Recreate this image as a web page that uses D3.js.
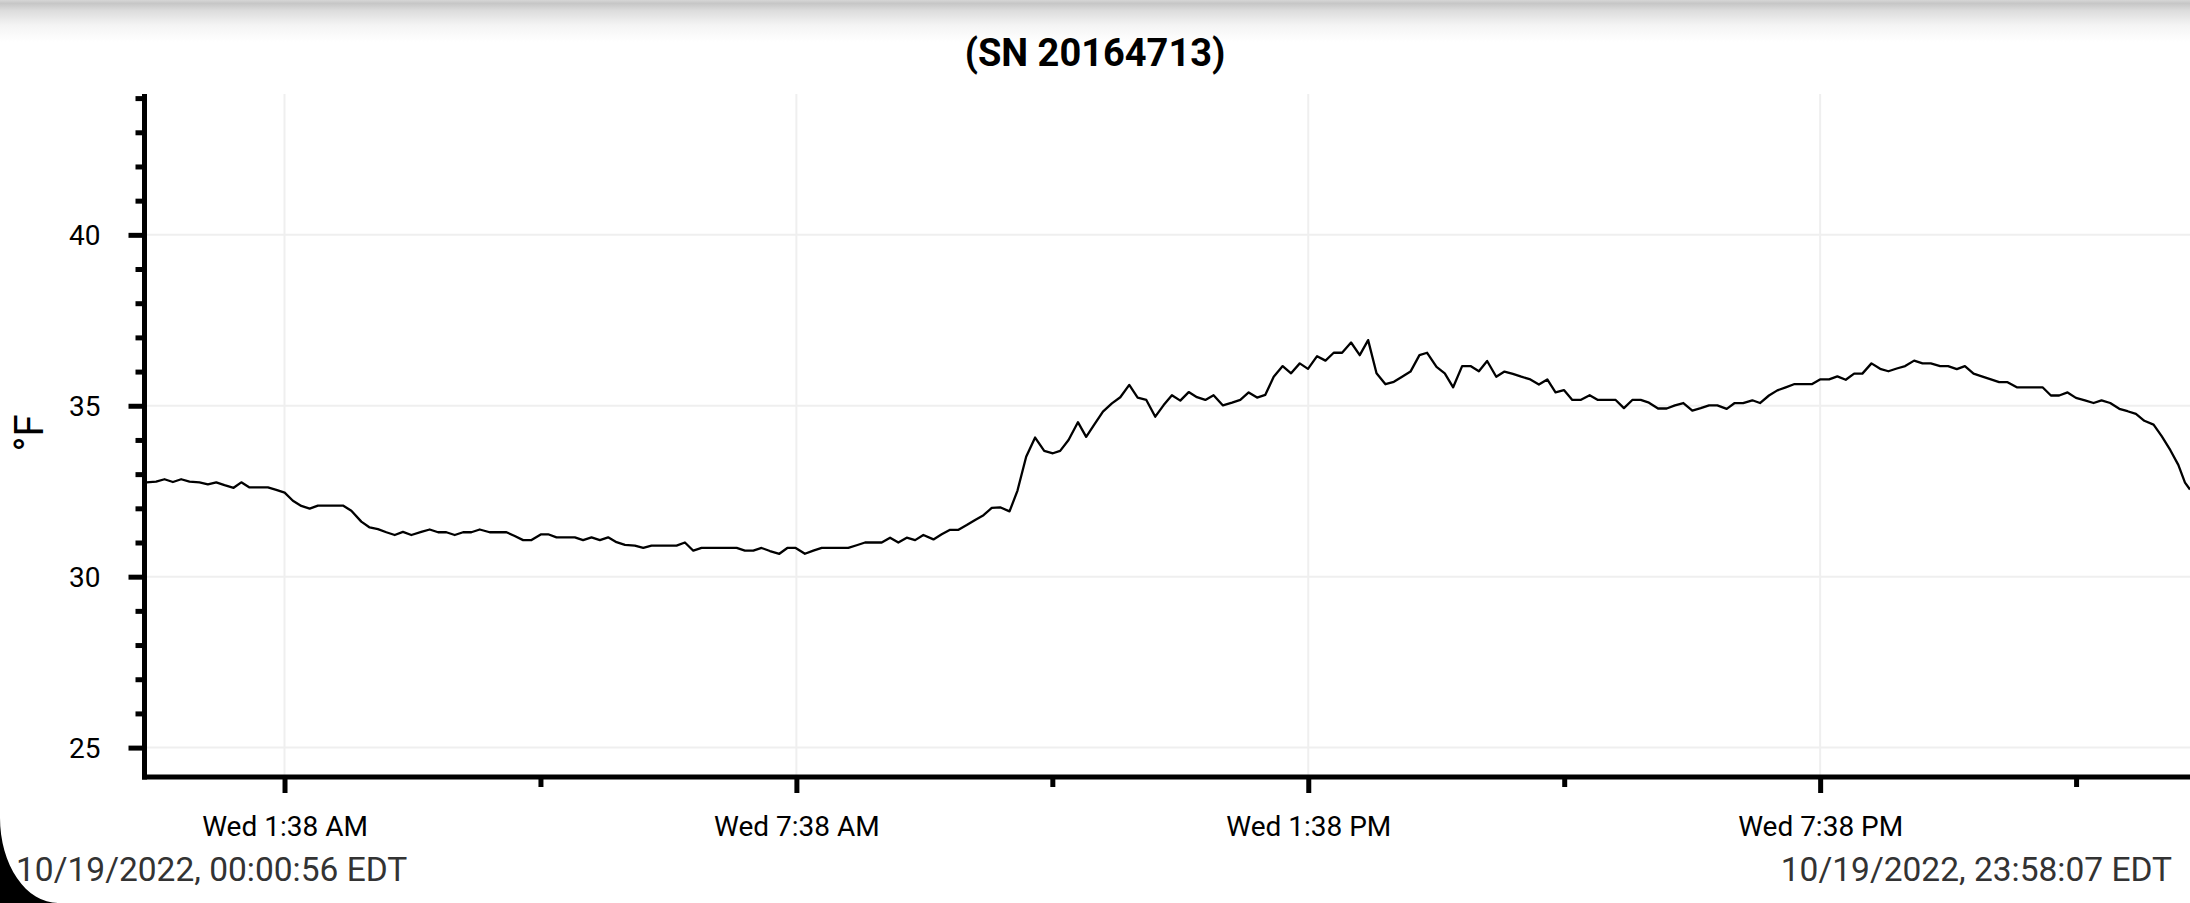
<!DOCTYPE html>
<html><head><meta charset="utf-8">
<script src="https://cdn.jsdelivr.net/npm/d3@7"></script>
<style>html,body{margin:0;padding:0;background:#fff;overflow:hidden}</style>
</head><body>
<svg id="chart" width="2190" height="903"></svg>
<script>
// ---------- data ----------
const title = "(SN 20164713)";
const yLabel = "°F";
const startLabel = "10/19/2022, 00:00:56 EDT";
const endLabel = "10/19/2022, 23:58:07 EDT";

// minutes after midnight, 10/19/2022
const minutes = [
  0.93, 7.7, 13.6, 19.5, 25.3, 31.2, 38.2, 44.1, 50.0, 55.8, 62.2, 67.6, 73.4, 86.3, 92.2, 98.1, 103.9, 109.8, 115.7, 121.5,
  139.1, 145.0, 152.0, 157.9, 163.7, 169.6, 175.5, 181.3, 187.2, 194.2, 200.1, 206.0, 211.8, 217.7, 223.6, 229.4, 235.3, 242.3,
  254.1, 259.9, 265.8, 271.7, 278.5, 283.4, 289.3, 302.2, 308.0, 313.9, 319.8, 325.6, 331.5, 337.4, 344.4, 350.3, 356.1, 373.7,
  379.6, 385.5, 391.3, 416.0, 421.8, 427.7, 433.5, 439.4, 446.0, 451.6, 457.5, 464.0, 469.9, 475.8, 494.5, 500.4, 506.3, 518.0,
  523.9, 529.7, 535.6, 541.5, 547.3, 554.4, 560.2, 566.1, 572.0, 577.8, 583.7, 589.6, 595.4, 601.3, 607.9, 613.5, 619.6, 625.9,
  632.3, 638.4, 643.5, 649.4, 656.0, 661.8, 667.7, 673.6, 679.9, 685.8, 692.1, 698.0, 704.1, 710.4, 716.3, 722.1, 728.0, 733.9,
  739.7, 745.6, 751.4, 758.0, 764.4, 770.2, 776.1, 782.0, 787.8, 793.7, 800.0, 805.9, 812.0, 817.8, 824.2, 830.1, 835.9, 841.8,
  848.1, 854.2, 860.1, 866.0, 872.3, 878.2, 884.0, 889.9, 896.2, 901.6, 908.2, 914.0, 919.9, 926.2, 932.1, 938.0, 943.8, 950.2,
  956.0, 961.9, 967.8, 973.6, 980.2, 986.1, 991.9, 997.8, 1003.7, 1009.5, 1015.9, 1021.7, 1034.2, 1040.0, 1045.9, 1051.8, 1057.6,
  1064.0, 1070.1, 1075.9, 1081.8, 1088.1, 1094.0, 1099.9, 1105.7, 1112.3, 1117.9, 1123.8, 1130.3, 1135.7, 1142.0, 1147.9, 1153.8,
  1159.6, 1172.1, 1177.9, 1184.3, 1190.1, 1196.0, 1201.9, 1207.7, 1214.1, 1220.2, 1226.0, 1231.9, 1237.8, 1244.1, 1250.0, 1255.8,
  1262.4, 1268.0, 1274.1, 1279.8, 1285.9, 1292.2, 1298.1, 1303.9, 1309.8, 1316.3, 1334.4, 1340.3, 1346.1, 1352.0, 1357.9, 1364.2,
  1370.3, 1375.9, 1382.0, 1388.4, 1394.2, 1400.1, 1406.0, 1412.5, 1418.2, 1424.3, 1429.9, 1434.6, 1438.1
];
// °F
const values = [
  32.76, 32.78, 32.85, 32.77, 32.85, 32.78, 32.76, 32.70, 32.76, 32.68, 32.60, 32.76, 32.61, 32.61, 32.54, 32.46, 32.22, 32.07, 31.99, 32.08,
  32.08, 31.93, 31.61, 31.44, 31.39, 31.30, 31.22, 31.31, 31.22, 31.31, 31.38, 31.30, 31.30, 31.22, 31.30, 31.30, 31.38, 31.30,
  31.30, 31.19, 31.07, 31.07, 31.24, 31.24, 31.15, 31.15, 31.07, 31.15, 31.07, 31.15, 31.01, 30.93, 30.91, 30.84, 30.91, 30.91,
  31.00, 30.76, 30.84, 30.84, 30.76, 30.76, 30.84, 30.75, 30.67, 30.84, 30.84, 30.67, 30.76, 30.84, 30.84, 30.92, 31.00, 31.00,
  31.14, 31.00, 31.14, 31.07, 31.22, 31.09, 31.24, 31.37, 31.37, 31.51, 31.66, 31.80, 32.01, 32.03, 31.91, 32.52, 33.51, 34.07,
  33.68, 33.61, 33.68, 34.00, 34.52, 34.09, 34.46, 34.83, 35.07, 35.25, 35.61, 35.24, 35.17, 34.68, 35.02, 35.31, 35.15, 35.40,
  35.25, 35.17, 35.31, 35.01, 35.09, 35.17, 35.39, 35.24, 35.32, 35.85, 36.16, 35.95, 36.24, 36.08, 36.45, 36.32, 36.55, 36.55,
  36.85, 36.48, 36.92, 35.95, 35.63, 35.70, 35.85, 36.00, 36.48, 36.55, 36.14, 35.95, 35.54, 36.16, 36.16, 36.01, 36.31, 35.85,
  36.00, 35.93, 35.85, 35.78, 35.62, 35.77, 35.39, 35.46, 35.17, 35.17, 35.31, 35.17, 35.17, 34.93, 35.17, 35.17, 35.09,
  34.92, 34.92, 35.01, 35.08, 34.86, 34.93, 35.01, 35.01, 34.91, 35.08, 35.08, 35.16, 35.08, 35.30, 35.45, 35.54,
  35.63, 35.63, 35.77, 35.77, 35.86, 35.76, 35.94, 35.94, 36.24, 36.08, 36.01, 36.09, 36.16, 36.32, 36.24, 36.24,
  36.16, 36.16, 36.07, 36.16, 35.94, 35.85, 35.77, 35.69, 35.69, 35.54, 35.54, 35.30, 35.30, 35.39, 35.23, 35.16,
  35.08, 35.16, 35.08, 34.91, 34.84, 34.76, 34.56, 34.45, 34.11, 33.70, 33.27, 32.75, 32.55
];

const yMajorTicks = [25, 30, 35, 40];
const yMinorTicks = [26, 27, 28, 29, 31, 32, 33, 34, 36, 37, 38, 39, 41, 42, 43, 44];
const xMajorTicks = ["01:38:00", "07:38:00", "13:38:00", "19:38:00"];
const xMajorLabels = ["Wed 1:38 AM", "Wed 7:38 AM", "Wed 1:38 PM", "Wed 7:38 PM"];
const xMinorTicks = ["04:38:00", "10:38:00", "16:38:00", "22:38:00"];
const xDomain = ["00:00:56", "23:58:07"];
const yDomain = [24.14, 44.12];

// ---------- drawing ----------
const W = 2190, H = 903;
const svg = d3.select("#chart");
const day = "2022-10-19 ";
const parse = d3.timeParse("%Y-%m-%d %H:%M:%S");
const base = parse(day + "00:00:00");
const toDate = m => new Date(base.getTime() + m * 60000);

const plotLeft = 144.5, plotTop = 94, plotBottom = 777;
const x = d3.scaleTime().domain(xDomain.map(s => parse(day + s))).range([146.5, W]);
const y = d3.scaleLinear().domain(yDomain).range([plotBottom, plotTop]);

svg.append("rect").attr("width", W).attr("height", H).attr("fill", "#fff");

// top shadow
const defs = svg.append("defs");
const grad = defs.append("linearGradient").attr("id", "shadow").attr("x1", 0).attr("y1", 0).attr("x2", 0).attr("y2", 1);
grad.append("stop").attr("offset", "0%").attr("stop-color", "#d6d6d6");
grad.append("stop").attr("offset", "8%").attr("stop-color", "#c6c6c6");
grad.append("stop").attr("offset", "25%").attr("stop-color", "#dcdcdc");
grad.append("stop").attr("offset", "60%").attr("stop-color", "#f4f4f4");
grad.append("stop").attr("offset", "100%").attr("stop-color", "#ffffff");
svg.append("rect").attr("x", 0).attr("y", 0).attr("width", W).attr("height", 42).attr("fill", "url(#shadow)");

// gridlines
const grid = svg.append("g").attr("stroke", "#efefef").attr("stroke-width", 2);
grid.selectAll("line.h").data(yMajorTicks).join("line")
  .attr("x1", plotLeft).attr("x2", W).attr("y1", d => y(d)).attr("y2", d => y(d));
grid.selectAll("line.v").data(xMajorTicks).join("line")
  .attr("x1", d => x(parse(day + d))).attr("x2", d => x(parse(day + d)))
  .attr("y1", plotTop).attr("y2", plotBottom);

// data line
const data = minutes.map((m, i) => ({ t: toDate(m), v: values[i] }));
svg.append("path").datum(data)
  .attr("fill", "none").attr("stroke", "#000").attr("stroke-width", 2.3)
  .attr("stroke-linejoin", "round")
  .attr("d", d3.line().x(d => x(d.t)).y(d => y(d.v)));

// y axis
const yMajor = svg.append("g").attr("transform", `translate(${plotLeft},0)`)
  .call(d3.axisLeft(y).tickValues(yMajorTicks).tickSize(16).tickSizeOuter(0).tickFormat(d3.format("d")));
const yMinor = svg.append("g").attr("transform", `translate(${plotLeft},0)`)
  .call(d3.axisLeft(y).tickValues(yMinorTicks).tickSize(9).tickSizeOuter(0).tickFormat(""));
[yMajor, yMinor].forEach(g => {
  g.select(".domain").remove();
  g.selectAll(".tick line").attr("stroke", "#000").attr("stroke-width", 5);
});
yMajor.selectAll(".tick text")
  .attr("x", -44).attr("dy", "0.36em")
  .attr("font-family", "Roboto").attr("font-size", 28).attr("fill", "#000");

// x axis
const xMajor = svg.append("g").attr("transform", `translate(0,${plotBottom})`)
  .call(d3.axisBottom(x).tickValues(xMajorTicks.map(s => parse(day + s)))
    .tickFormat((d, i) => xMajorLabels[i]).tickSize(16).tickSizeOuter(0));
const xMinor = svg.append("g").attr("transform", `translate(0,${plotBottom})`)
  .call(d3.axisBottom(x).tickValues(xMinorTicks.map(s => parse(day + s)))
    .tickFormat("").tickSize(10).tickSizeOuter(0));
[xMajor, xMinor].forEach(g => {
  g.select(".domain").remove();
  g.selectAll(".tick line").attr("stroke", "#000").attr("stroke-width", 5);
});
xMajor.selectAll(".tick text")
  .attr("y", 59).attr("dy", 0)
  .attr("font-family", "Roboto").attr("font-size", 28).attr("fill", "#000");

// axis lines
svg.append("line").attr("x1", plotLeft).attr("x2", plotLeft).attr("y1", plotTop).attr("y2", plotBottom + 2.5)
  .attr("stroke", "#000").attr("stroke-width", 5);
svg.append("line").attr("x1", plotLeft - 2.5).attr("x2", W).attr("y1", plotBottom).attr("y2", plotBottom)
  .attr("stroke", "#000").attr("stroke-width", 5);

// title
svg.append("text").attr("x", W / 2).attr("y", 66).attr("text-anchor", "middle")
  .attr("font-family", "Roboto").attr("font-weight", "bold").attr("font-size", 38).attr("fill", "#000")
  .text(title);

// y label
svg.append("text").attr("transform", `translate(43,433) rotate(-90)`).attr("text-anchor", "middle")
  .attr("font-family", "Roboto").attr("font-size", 40).attr("fill", "#000")
  .text(yLabel);

// start / end labels
svg.append("text").attr("x", 16).attr("y", 881)
  .attr("font-family", "Roboto").attr("font-size", 33.5).attr("fill", "#333")
  .text(startLabel);
svg.append("text").attr("x", 2172).attr("y", 881).attr("text-anchor", "end")
  .attr("font-family", "Roboto").attr("font-size", 33.5).attr("fill", "#333")
  .text(endLabel);

// rounded screen corner
svg.append("path").attr("d", `M0,818 A58,85 0 0 0 58,${H} L0,${H} Z`).attr("fill", "#000");
</script>
</body></html>
